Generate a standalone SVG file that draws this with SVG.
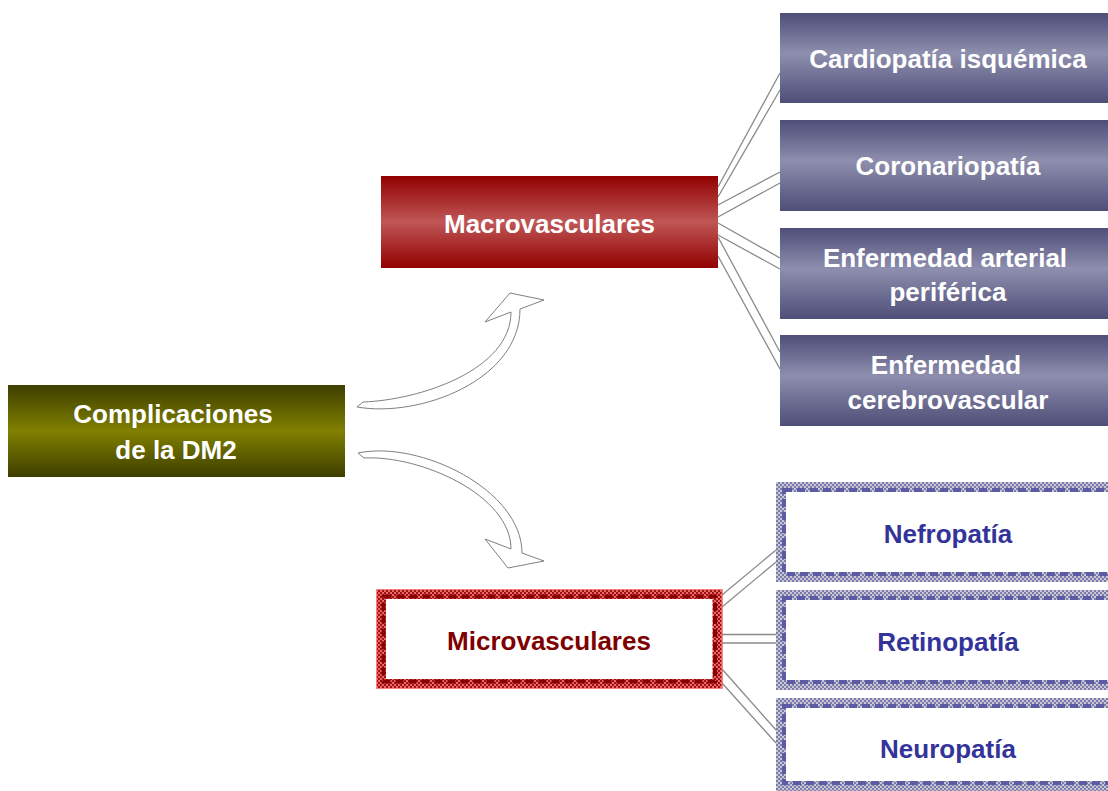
<svg xmlns="http://www.w3.org/2000/svg" width="1108" height="791" viewBox="0 0 1108 791">
<defs>
<linearGradient id="gOlive" x1="0" y1="0" x2="0" y2="1">
<stop offset="0" stop-color="#3e3e00"/><stop offset="0.5" stop-color="#808000"/><stop offset="1" stop-color="#3e3e00"/>
</linearGradient>
<linearGradient id="gRed" x1="0" y1="0" x2="0" y2="1">
<stop offset="0" stop-color="#920000"/><stop offset="0.5" stop-color="#c05656"/><stop offset="1" stop-color="#920000"/>
</linearGradient>
<linearGradient id="gBlue" x1="0" y1="0" x2="0" y2="1">
<stop offset="0" stop-color="#4e4e78"/><stop offset="0.45" stop-color="#8e8eae"/><stop offset="1" stop-color="#4e4e78"/>
</linearGradient>
<pattern id="pRed" width="4" height="4" patternUnits="userSpaceOnUse">
<rect width="4" height="4" fill="#e86a6a"/><rect width="2" height="2" fill="#a01010"/><rect x="2" y="2" width="2" height="2" fill="#a01010"/>
</pattern>
<pattern id="pBlue" width="4" height="4" patternUnits="userSpaceOnUse">
<rect width="4" height="4" fill="#c8c8d0"/><rect width="2" height="2" fill="#7a7aae"/><rect x="2" y="2" width="2" height="2" fill="#7a7aae"/>
</pattern>
</defs>
<style>
.t{font-family:"Liberation Sans",Arial,sans-serif;font-weight:bold;font-size:26px;text-anchor:middle}
.w{fill:#ffffff}
.bl{fill:#333399}
.dr{fill:#800000}
.con line{stroke:#8a8a8a;stroke-width:1.3}
.arr{fill:#ffffff;stroke:#7f7f7f;stroke-width:1}
.redband{fill:#ffffff;stroke:url(#pRed);stroke-width:10}
.reddash{fill:none;stroke:#8b0000;stroke-width:4;stroke-dasharray:8 5}
.blueband{fill:#ffffff;stroke:url(#pBlue);stroke-width:10}
.bluedash{fill:none;stroke:#5c5ca4;stroke-width:4;stroke-dasharray:8 5}
</style>
<rect width="1108" height="791" fill="#ffffff"/>

<g id="connectors" class="con">
<line x1="718" y1="187" x2="780" y2="73"/>
<line x1="718" y1="197" x2="780" y2="90"/>
<line x1="718" y1="205" x2="780" y2="172"/>
<line x1="718" y1="217" x2="780" y2="183"/>
<line x1="718" y1="223" x2="780" y2="258"/>
<line x1="718" y1="235" x2="780" y2="269"/>
<line x1="718" y1="237" x2="780" y2="352"/>
<line x1="718" y1="256" x2="780" y2="369"/>
<line x1="722" y1="595" x2="776" y2="550"/>
<line x1="722" y1="607" x2="776" y2="562"/>
<line x1="722" y1="634.5" x2="776" y2="634.5"/>
<line x1="722" y1="643" x2="776" y2="643"/>
<line x1="722" y1="669" x2="776" y2="730"/>
<line x1="722" y1="683" x2="776" y2="743"/>
<path class="arr" d="M357,407 C420,418 520,380 520,309 L544,300 L510,293 L485,322 L511,312 C511,370 420,400 363,402 Z"/>
<path class="arr" d="M358,453 C420,440 522,490 522,553 L544,561 L508,568 L485,539 L511,549 C511,495 420,455 364,458 Z"/>
</g>

<g id="complicaciones">
<rect x="8" y="385" width="337" height="92" fill="url(#gOlive)"/>
<text class="t w" x="173" y="423">Complicaciones</text>
<text class="t w" x="176" y="459">de la DM2</text>
</g>

<g id="macrovasculares">
<rect x="381" y="176" width="337" height="92" fill="url(#gRed)"/>
<text class="t w" x="549.5" y="233">Macrovasculares</text>
</g>

<g id="cardiopatia">
<rect x="780" y="13" width="336" height="90" fill="url(#gBlue)"/>
<text class="t w" x="948" y="68">Cardiopatía isquémica</text>
</g>
<g id="coronariopatia">
<rect x="780" y="120" width="336" height="91" fill="url(#gBlue)"/>
<text class="t w" x="948" y="175">Coronariopatía</text>
</g>
<g id="arterial">
<rect x="780" y="228" width="336" height="91" fill="url(#gBlue)"/>
<text class="t w" x="945" y="267">Enfermedad arterial</text>
<text class="t w" x="948" y="301">periférica</text>
</g>
<g id="cerebrovascular">
<rect x="780" y="335" width="336" height="91" fill="url(#gBlue)"/>
<text class="t w" x="946" y="374">Enfermedad</text>
<text class="t w" x="948" y="409">cerebrovascular</text>
</g>

<g id="microvasculares">
<rect class="redband" x="381" y="594" width="336.5" height="90"/>
<rect class="reddash" x="383.5" y="596.5" width="331.5" height="85"/>
<rect x="376.5" y="589.5" width="345.5" height="99" fill="none" stroke="#ff8080" stroke-width="1"/>
<text class="t dr" x="549" y="650">Microvasculares</text>
</g>

<g id="nefropatia">
<rect class="blueband" x="781" y="487" width="340" height="90"/>
<rect class="bluedash" x="784" y="490" width="334" height="84"/>
<text class="t bl" x="948" y="543">Nefropatía</text>
</g>
<g id="retinopatia">
<rect class="blueband" x="781" y="595" width="340" height="90"/>
<rect class="bluedash" x="784" y="598" width="334" height="84"/>
<text class="t bl" x="948" y="651">Retinopatía</text>
</g>
<g id="neuropatia">
<rect class="blueband" x="781" y="703" width="340" height="83"/>
<rect class="bluedash" x="784" y="706" width="334" height="77"/>
<text class="t bl" x="948" y="758">Neuropatía</text>
</g>
</svg>
